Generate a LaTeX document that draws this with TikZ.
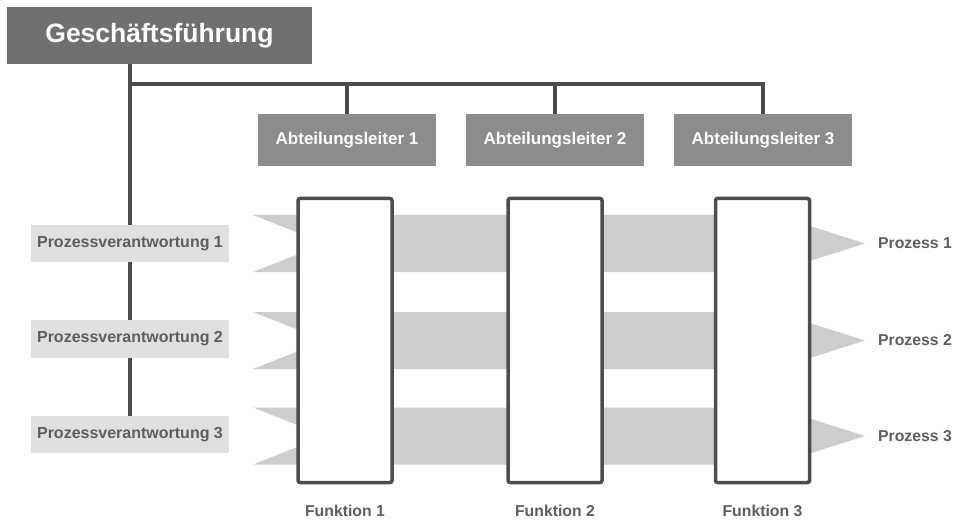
\documentclass[tikz,border=0pt]{standalone}
\usepackage{fontspec}
\setmainfont{Liberation Sans}
\usetikzlibrary{positioning, calc}
\definecolor{leitgrau}{HTML}{707070}
\definecolor{abtgrau}{HTML}{8C8C8C}
\definecolor{pvgrau}{HTML}{E0E0E0}
\definecolor{bandgrau}{HTML}{CCCDCC}
\definecolor{liniengrau}{HTML}{4D4D4D}
\definecolor{textgrau}{HTML}{5E5E5E}
\tikzset{
  leitnode/.style={
    rectangle, fill=leitgrau, text=white,
    minimum width=305pt, minimum height=57pt,
    inner sep=0pt, font=\fontsize{26.5}{30}\selectfont\bfseries
  },
  abtnode/.style={
    rectangle, fill=abtgrau, text=white,
    minimum width=178pt, minimum height=52pt,
    inner sep=0pt, font=\fontsize{17}{20}\selectfont\bfseries
  },
  pvnode/.style={
    rectangle, fill=pvgrau, text=textgrau,
    minimum width=198pt, minimum height=37.5pt,
    inner sep=0pt, font=\fontsize{16}{19}\selectfont\bfseries
  },
  funknode/.style={
    rectangle, rounded corners=2pt, fill=white,
    draw=liniengrau, line width=3.5pt,
    minimum width=94pt, minimum height=284pt, inner sep=0pt
  },
  labelnode/.style={text=textgrau, inner sep=0pt,
    font=\fontsize{15.8}{19}\selectfont\bfseries},
  bandfill/.style={fill=bandgrau},
  linie/.style={draw=liniengrau, line width=3.5pt}
}

\begin{document}
\begin{tikzpicture}[x=1pt, y=-1pt]
  \useasboundingbox (0,0) rectangle (957,521);

  % Leitung
  \node[leitnode] (gf) at (159.5,35.5) {Geschäftsführung};

  % Abteilungsleiter
  \node[abtnode] (al1) at (347,140) {Abteilungsleiter 1};
  \node[abtnode] (al2) at (555,140) {Abteilungsleiter 2};
  \node[abtnode] (al3) at (763,140) {Abteilungsleiter 3};

  % Prozessverantwortung
  \node[pvnode] (pv1) at (130,243.5) {Prozessverantwortung 1};
  \node[pvnode] (pv2) at (130,339) {Prozessverantwortung 2};
  \node[pvnode] (pv3) at (130,434.5) {Prozessverantwortung 3};

  % Prozessbaender
  \foreach \m in {243.5,340.5,436}
    \fill[bandfill] (253,\m-28.5) -- (775,\m-28.5) -- (865,\m)
      -- (775,\m+28.5) -- (253,\m+28.5) -- (325,\m) -- cycle;

  % Funktionen
  \node[funknode] (fn1) at (345,340.5) {};
  \node[funknode] (fn2) at (555,340.5) {};
  \node[funknode] (fn3) at (762.5,340.5) {};
  \node[labelnode, below=21pt of fn1] (fl1) {Funktion 1};
  \node[labelnode, below=21pt of fn2] (fl2) {Funktion 2};
  \node[labelnode, below=21pt of fn3] (fl3) {Funktion 3};

  % Prozesse
  \node[labelnode] (pr1) at (915,243.5) {Prozess 1};
  \node[labelnode] (pr2) at (915,340) {Prozess 2};
  \node[labelnode] (pr3) at (915,436) {Prozess 3};

  % Verbindungen
  \coordinate (knoten) at (130,84);
  \draw[linie] (gf.south -| pv1.north) -- (pv1.north);
  \draw[linie] (knoten) -| (al3.north);
  \draw[linie] (knoten -| al1.north) -- (al1.north);
  \draw[linie] (knoten -| al2.north) -- (al2.north);
  \draw[linie] (pv1) -- (pv2);
  \draw[linie] (pv2) -- (pv3);

\end{tikzpicture}
\end{document}
